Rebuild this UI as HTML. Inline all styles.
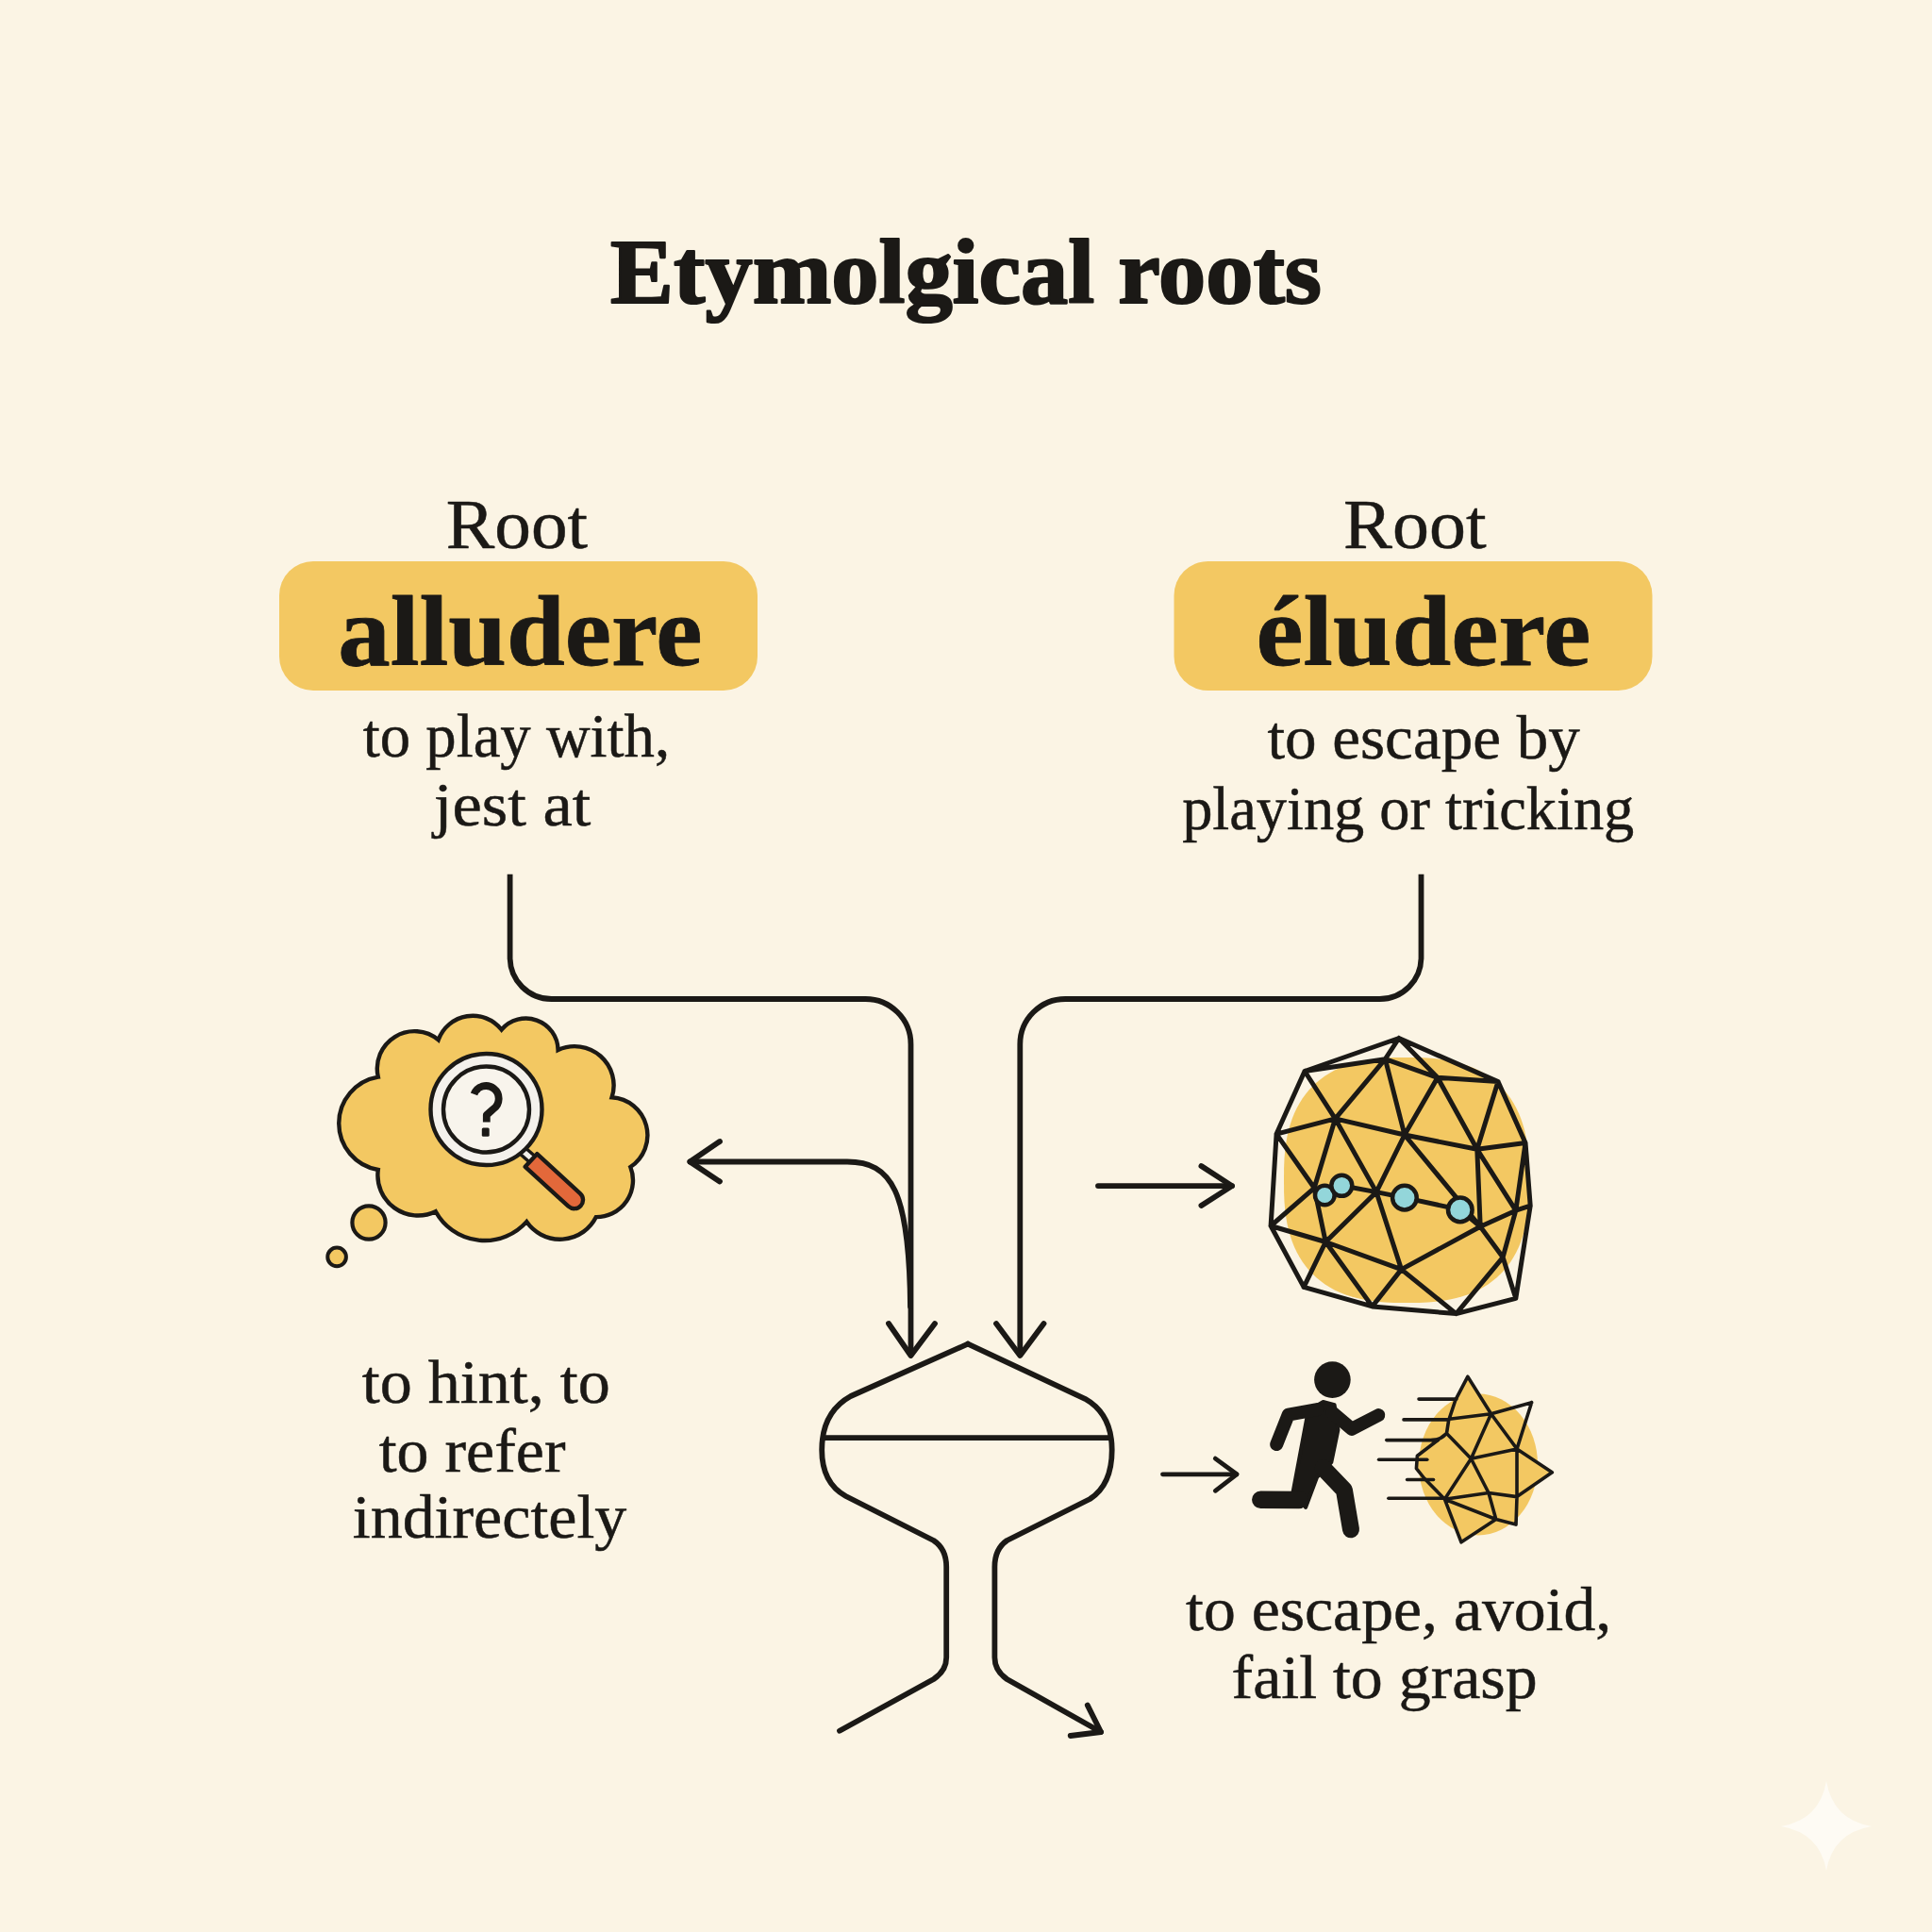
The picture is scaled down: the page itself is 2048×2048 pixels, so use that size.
<!DOCTYPE html>
<html><head><meta charset="utf-8"><style>
html,body{margin:0;padding:0;background:#FBF4E4;}
svg{display:block;}
text{font-family:"Liberation Serif",serif;fill:#1B1916;}
</style></head><body>
<svg width="2048" height="2048" viewBox="0 0 2048 2048">
<rect width="2048" height="2048" fill="#FBF4E4"/>
<text x="647.1" y="321.0" font-size="98" font-weight="bold" textLength="753.8" lengthAdjust="spacingAndGlyphs" stroke="#1B1916" stroke-width="2.2" stroke-linejoin="round">Etymolgical roots</text>
<text x="472.8" y="581.0" font-size="75" font-weight="normal" textLength="150.3" lengthAdjust="spacingAndGlyphs" stroke="#1B1916" stroke-width="0.5" stroke-linejoin="round">Root</text>
<text x="1424.1" y="581.0" font-size="75" font-weight="normal" textLength="151.5" lengthAdjust="spacingAndGlyphs" stroke="#1B1916" stroke-width="0.5" stroke-linejoin="round">Root</text>
<rect x="296" y="595" width="507" height="137" rx="36" fill="#F3C862"/>
<rect x="1244.5" y="595" width="507" height="137" rx="36" fill="#F3C862"/>
<text x="358.2" y="704.8" font-size="105" font-weight="bold" textLength="386.4" lengthAdjust="spacingAndGlyphs" stroke="#1B1916" stroke-width="0.8" stroke-linejoin="round">alludere</text>
<text x="1331.6" y="704.9" font-size="105" font-weight="bold" textLength="354.6" lengthAdjust="spacingAndGlyphs" stroke="#1B1916" stroke-width="0.8" stroke-linejoin="round">éludere</text>
<text x="384.8" y="801.6" font-size="66" font-weight="normal" textLength="325.3" lengthAdjust="spacingAndGlyphs" stroke="#1B1916" stroke-width="0.5" stroke-linejoin="round">to play with,</text>
<text x="459.8" y="875.0" font-size="66" font-weight="normal" textLength="166.5" lengthAdjust="spacingAndGlyphs" stroke="#1B1916" stroke-width="0.5" stroke-linejoin="round">jest at</text>
<text x="1343.4" y="803.5" font-size="66" font-weight="normal" textLength="331.3" lengthAdjust="spacingAndGlyphs" stroke="#1B1916" stroke-width="0.5" stroke-linejoin="round">to escape by</text>
<text x="1253.2" y="878.5" font-size="66" font-weight="normal" textLength="479.1" lengthAdjust="spacingAndGlyphs" stroke="#1B1916" stroke-width="0.5" stroke-linejoin="round">playing or tricking</text>
<text x="383.8" y="1487.0" font-size="66" font-weight="normal" textLength="262.9" lengthAdjust="spacingAndGlyphs" stroke="#1B1916" stroke-width="0.5" stroke-linejoin="round">to hint, to</text>
<text x="401.7" y="1559.5" font-size="66" font-weight="normal" textLength="197.9" lengthAdjust="spacingAndGlyphs" stroke="#1B1916" stroke-width="0.5" stroke-linejoin="round">to refer</text>
<text x="373.8" y="1630.1" font-size="66" font-weight="normal" textLength="290.5" lengthAdjust="spacingAndGlyphs" stroke="#1B1916" stroke-width="0.5" stroke-linejoin="round">indirectely</text>
<text x="1257.1" y="1727.9" font-size="66" font-weight="normal" textLength="451.1" lengthAdjust="spacingAndGlyphs" stroke="#1B1916" stroke-width="0.5" stroke-linejoin="round">to escape, avoid,</text>
<text x="1305.6" y="1800.3" font-size="66" font-weight="normal" textLength="324.1" lengthAdjust="spacingAndGlyphs" stroke="#1B1916" stroke-width="0.5" stroke-linejoin="round">fail to grasp</text>
<g fill="none" stroke="#1B1916" stroke-width="5.8" stroke-linecap="round" stroke-linejoin="round">
<path d="M540.6 926.7 V1015 A44 44 0 0 0 584.6 1059 H917.5 A48 48 0 0 1 965.5 1107 V1436" stroke-linecap="butt"/>
<path d="M1506.5 926.7 V1015 A44 44 0 0 1 1462.5 1059 H1129.3 A48 48 0 0 0 1081.3 1107 V1436" stroke-linecap="butt"/>
<path d="M942 1403 L965.5 1437 L991 1403"/>
<path d="M1056 1403 L1081.3 1437 L1106.5 1403"/>
<path d="M731.4 1231.5 H898 C945 1231.5 964 1262 965 1385"/>
<path d="M763 1210 L731.4 1231.5 L763 1252.5"/>
<path d="M1164 1257.1 H1306"/>
<path d="M1273.4 1236 L1306 1257.1 L1273.4 1278"/>
<path d="M1232.5 1562.8 H1311" stroke-width="4.8"/>
<path d="M1288.3 1546.1 L1311 1562.8 L1288.3 1580.3" stroke-width="4.8"/>
<path d="M1026 1424.6 L901.8 1480 Q871.2 1497 871.2 1537 Q871.2 1572 896.6 1586 L989.7 1633 Q1003.2 1642 1003.2 1661 V1757 Q1003.2 1771 989.7 1780 L890 1834.8"/>
<path d="M1026 1424.6 L1150.2 1482.8 Q1178.7 1499 1178.7 1537 Q1178.7 1574 1155.4 1589 L1067.4 1633 Q1054.4 1642 1054.4 1661 V1757 Q1054.4 1771 1067.4 1780 L1167 1836"/>
<path d="M874.6 1524.2 H1176"/>
<path d="M1152.8 1807.6 L1167 1836 L1134.7 1840"/>
</g>
<path d="M400.8 1141.6 A39.6 39.6 0 0 1 464.7 1102.3 A38.8 38.8 0 0 1 531.6 1091.5 A34.1 34.1 0 0 1 591.6 1113.1 A41.4 41.4 0 0 1 648.6 1163.3 A40.2 40.2 0 0 1 668.3 1237.0 A38.9 38.9 0 0 1 631.9 1290.1 A42.9 42.9 0 0 1 558.2 1295.1 A59.3 59.3 0 0 1 461.8 1284.2 A42.7 42.7 0 0 1 400.8 1240.0 A49.9 49.9 0 0 1 400.8 1141.6 Z" fill="#F3C862" stroke="#1B1916" stroke-width="4.4"/>
<circle cx="391" cy="1296" r="17.6" fill="#F3C862" stroke="#1B1916" stroke-width="4.2"/>
<circle cx="357.1" cy="1332.4" r="9.8" fill="#F3C862" stroke="#1B1916" stroke-width="4"/>
<line x1="553" y1="1219" x2="569" y2="1233" stroke="#1B1916" stroke-width="12"/>
<line x1="553" y1="1219" x2="569" y2="1233" stroke="#F3F0EA" stroke-width="5"/>
<g transform="translate(563 1230) rotate(42.5)"><path d="M0 -9.3 H62 A9.3 9.3 0 0 1 62 9.3 H0 Z" fill="#E3683A" stroke="#1B1916" stroke-width="4.4" stroke-linejoin="round"/></g>
<circle cx="515.5" cy="1176" r="59" fill="#F4F1EC" stroke="#1B1916" stroke-width="4.4"/>
<circle cx="515.5" cy="1176" r="45.5" fill="#F8F4EC" stroke="#1B1916" stroke-width="4.4"/>
<path d="M502.5 1159.9 A13.5 13.5 0 1 1 522.9 1175.6 L515.8 1182 V1189.5" fill="none" stroke="#1B1916" stroke-width="7.8" stroke-linecap="butt" stroke-linejoin="round"/>
<rect x="510.8" y="1195.4" width="7.9" height="9.3" rx="1.5" fill="#1B1916"/>
<path d="M1621.0,1251.0 L1620.9,1264.4 L1620.5,1273.9 L1619.8,1282.2 L1618.8,1289.8 L1617.6,1297.0 L1616.1,1303.7 L1614.3,1310.0 L1612.3,1316.1 L1610.0,1321.8 L1607.4,1327.3 L1604.5,1332.5 L1601.4,1337.4 L1598.1,1342.0 L1594.5,1346.4 L1590.6,1350.6 L1586.4,1354.5 L1582.0,1358.1 L1577.4,1361.4 L1572.5,1364.5 L1567.3,1367.4 L1561.8,1370.0 L1556.1,1372.3 L1550.0,1374.3 L1543.7,1376.1 L1537.0,1377.6 L1529.8,1378.8 L1522.2,1379.8 L1513.9,1380.5 L1504.4,1380.9 L1491.0,1381.0 L1477.6,1380.9 L1468.1,1380.5 L1459.8,1379.8 L1452.2,1378.8 L1445.0,1377.6 L1438.3,1376.1 L1432.0,1374.3 L1425.9,1372.3 L1420.2,1370.0 L1414.7,1367.4 L1409.5,1364.5 L1404.6,1361.4 L1400.0,1358.1 L1395.6,1354.5 L1391.4,1350.6 L1387.5,1346.4 L1383.9,1342.0 L1380.6,1337.4 L1377.5,1332.5 L1374.6,1327.3 L1372.0,1321.8 L1369.7,1316.1 L1367.7,1310.0 L1365.9,1303.7 L1364.4,1297.0 L1363.2,1289.8 L1362.2,1282.2 L1361.5,1273.9 L1361.1,1264.4 L1361.0,1251.0 L1361.1,1237.6 L1361.5,1228.1 L1362.2,1219.8 L1363.2,1212.2 L1364.4,1205.0 L1365.9,1198.3 L1367.7,1192.0 L1369.7,1185.9 L1372.0,1180.2 L1374.6,1174.7 L1377.5,1169.5 L1380.6,1164.6 L1383.9,1160.0 L1387.5,1155.6 L1391.4,1151.4 L1395.6,1147.5 L1400.0,1143.9 L1404.6,1140.6 L1409.5,1137.5 L1414.7,1134.6 L1420.2,1132.0 L1425.9,1129.7 L1432.0,1127.7 L1438.3,1125.9 L1445.0,1124.4 L1452.2,1123.2 L1459.8,1122.2 L1468.1,1121.5 L1477.6,1121.1 L1491.0,1121.0 L1504.4,1121.1 L1513.9,1121.5 L1522.2,1122.2 L1529.8,1123.2 L1537.0,1124.4 L1543.7,1125.9 L1550.0,1127.7 L1556.1,1129.7 L1561.8,1132.0 L1567.3,1134.6 L1572.5,1137.5 L1577.4,1140.6 L1582.0,1143.9 L1586.4,1147.5 L1590.6,1151.4 L1594.5,1155.6 L1598.1,1160.0 L1601.4,1164.6 L1604.5,1169.5 L1607.4,1174.7 L1610.0,1180.2 L1612.3,1185.9 L1614.3,1192.0 L1616.1,1198.3 L1617.6,1205.0 L1618.8,1212.2 L1619.8,1219.8 L1620.5,1228.1 L1620.9,1237.6Z" fill="#F3C862"/>
<g fill="none" stroke="#1B1916" stroke-width="5" stroke-linejoin="round" stroke-linecap="round">
<path d="M1482.9,1100.5L1383.0,1135.5M1383.0,1135.5L1353.1,1202.1M1353.1,1202.1L1347.1,1299.5M1347.1,1299.5L1382.1,1364.4M1382.1,1364.4L1454.7,1384.9M1454.7,1384.9L1543.6,1392.6M1543.6,1392.6L1606.8,1376.3M1606.8,1376.3L1622.2,1278.1M1622.2,1278.1L1617.0,1211.5M1617.0,1211.5L1588.0,1146.6M1588.0,1146.6L1482.9,1100.5M1482.9,1100.5L1468.4,1122.7M1383.0,1135.5L1468.4,1122.7M1468.4,1122.7L1523.9,1142.3M1482.9,1100.5L1523.9,1142.3M1523.9,1142.3L1588.0,1146.6M1383.0,1135.5L1415.4,1185.9M1468.4,1122.7L1415.4,1185.9M1468.4,1122.7L1488.9,1203.0M1523.9,1142.3L1488.9,1203.0M1523.9,1142.3L1565.8,1218.3M1588.0,1146.6L1565.8,1218.3M1353.1,1202.1L1415.4,1185.9M1415.4,1185.9L1488.9,1203.0M1488.9,1203.0L1565.8,1218.3M1565.8,1218.3L1617.0,1211.5M1353.1,1202.1L1393.2,1259.3M1415.4,1185.9L1393.2,1259.3M1415.4,1185.9L1459.0,1263.6M1488.9,1203.0L1459.0,1263.6M1488.9,1203.0L1569.2,1300.3M1565.8,1218.3L1569.2,1300.3M1565.8,1218.3L1606.8,1283.2M1617.0,1211.5L1606.8,1283.2M1347.1,1299.5L1393.2,1259.3M1393.2,1259.3L1405.2,1316.5M1347.1,1299.5L1405.2,1316.5M1459.0,1263.6L1405.2,1316.5M1459.0,1263.6L1485.5,1345.6M1405.2,1316.5L1485.5,1345.6M1485.5,1345.6L1569.2,1300.3M1569.2,1300.3L1606.8,1283.2M1606.8,1283.2L1622.2,1278.1M1569.2,1300.3L1593.1,1332.8M1606.8,1283.2L1593.1,1332.8M1593.1,1332.8L1606.8,1376.3M1593.1,1332.8L1543.6,1392.6M1485.5,1345.6L1543.6,1392.6M1485.5,1345.6L1454.7,1384.9M1405.2,1316.5L1454.7,1384.9M1405.2,1316.5L1382.1,1364.4"/>
</g>
<polyline points="1422.3,1256.8 1459.0,1263.6 1488.9,1269.6 1547.8,1282.4 1569.2,1300.3" fill="none" stroke="#1B1916" stroke-width="5"/>
<circle cx="1404.3" cy="1267.0" r="10.3" fill="#93D6DA" stroke="#1B1916" stroke-width="4.5"/>
<circle cx="1422.3" cy="1256.8" r="11" fill="#93D6DA" stroke="#1B1916" stroke-width="4.5"/>
<circle cx="1488.9" cy="1269.6" r="12.8" fill="#93D6DA" stroke="#1B1916" stroke-width="4.5"/>
<circle cx="1547.8" cy="1282.4" r="12.8" fill="#93D6DA" stroke="#1B1916" stroke-width="4.5"/>
<ellipse cx="1567" cy="1552.5" rx="63" ry="75" fill="#F3C862"/>
<polygon points="1555.8,1459.3 1580.6,1498.7 1608.0,1535.9 1645.3,1560.8 1608.0,1586.6 1607.0,1616.1 1585.8,1610.5 1549.0,1634.8 1531.4,1589.2 1509.7,1567.0 1501.4,1556.6 1502.4,1543.2 1533.5,1519.4 1535.6,1505.9 1542.8,1484.2" fill="#F3C862"/>
<g fill="none" stroke="#1B1916" stroke-width="3.6" stroke-linejoin="round" stroke-linecap="round">
<path d="M1555.8,1459.3L1580.6,1498.7M1580.6,1498.7L1608.0,1535.9M1623.6,1486.7L1580.6,1498.7M1623.6,1486.7L1608.0,1535.9M1580.6,1498.7L1559.4,1546.3M1533.5,1519.4L1559.4,1546.3M1559.4,1546.3L1608.0,1535.9M1608.0,1535.9L1645.3,1560.8M1608.0,1535.9L1608.0,1586.6M1608.0,1586.6L1607.0,1616.1M1645.3,1560.8L1608.0,1586.6M1533.5,1519.4L1502.4,1543.2M1559.4,1546.3L1531.4,1589.2M1559.4,1546.3L1578.0,1582.5M1578.0,1582.5L1585.8,1610.5M1531.4,1589.2L1578.0,1582.5M1578.0,1582.5L1608.0,1586.6M1531.4,1589.2L1585.8,1610.5M1585.8,1610.5L1607.0,1616.1M1531.4,1589.2L1549.0,1634.8M1549.0,1634.8L1585.8,1610.5M1555.8,1459.3L1542.8,1484.2L1535.6,1505.9L1533.5,1519.4M1580.6,1498.7L1536.6,1504.3M1502.4,1543.2L1501.4,1556.6L1509.7,1567.0L1531.4,1589.2M1533.5,1519.4Q1527.3,1526.6 1518.0,1526.6"/>
<path d="M1504.0,1483.1L1543.9,1483.1"/>
<path d="M1488.0,1504.9L1534.5,1504.9"/>
<path d="M1469.8,1526.6L1524.2,1526.6"/>
<path d="M1461.6,1547.3L1512.8,1547.3"/>
<path d="M1491.6,1568.5L1519.5,1568.5"/>
<path d="M1471.9,1588.2L1531.4,1588.2"/>
</g>
<g fill="none" stroke="#1B1916" stroke-linecap="round" stroke-linejoin="round">
<circle cx="1412.4" cy="1462.6" r="19.3" fill="#1B1916" stroke="none"/>
<polygon points="1386.8,1495.2 1402.6,1486 1414.6,1489.2 1418.4,1515.9 1411.3,1550.1 1396.1,1565.9 1384.1,1597.9 1370.5,1582.2" fill="#1B1916" stroke="#1B1916" stroke-width="4"/>
<polyline points="1377,1590 1336.3,1589.8" stroke-width="18.5"/>
<polyline points="1402.6,1556.1 1424.9,1579.5 1432,1621.3" stroke-width="18"/>
<polyline points="1412.4,1497.4 1433,1514.8 1461.3,1500.1" stroke-width="14"/>
<polyline points="1396.1,1494.1 1365.7,1499.6 1353.2,1531.1" stroke-width="14"/>
</g>
<path d="M1936 1888 Q1943 1929 1984 1936 Q1943 1943 1936 1983 Q1929 1943 1888 1936 Q1929 1929 1936 1888 Z" fill="#FEFBF4"/>
</svg></body></html>
